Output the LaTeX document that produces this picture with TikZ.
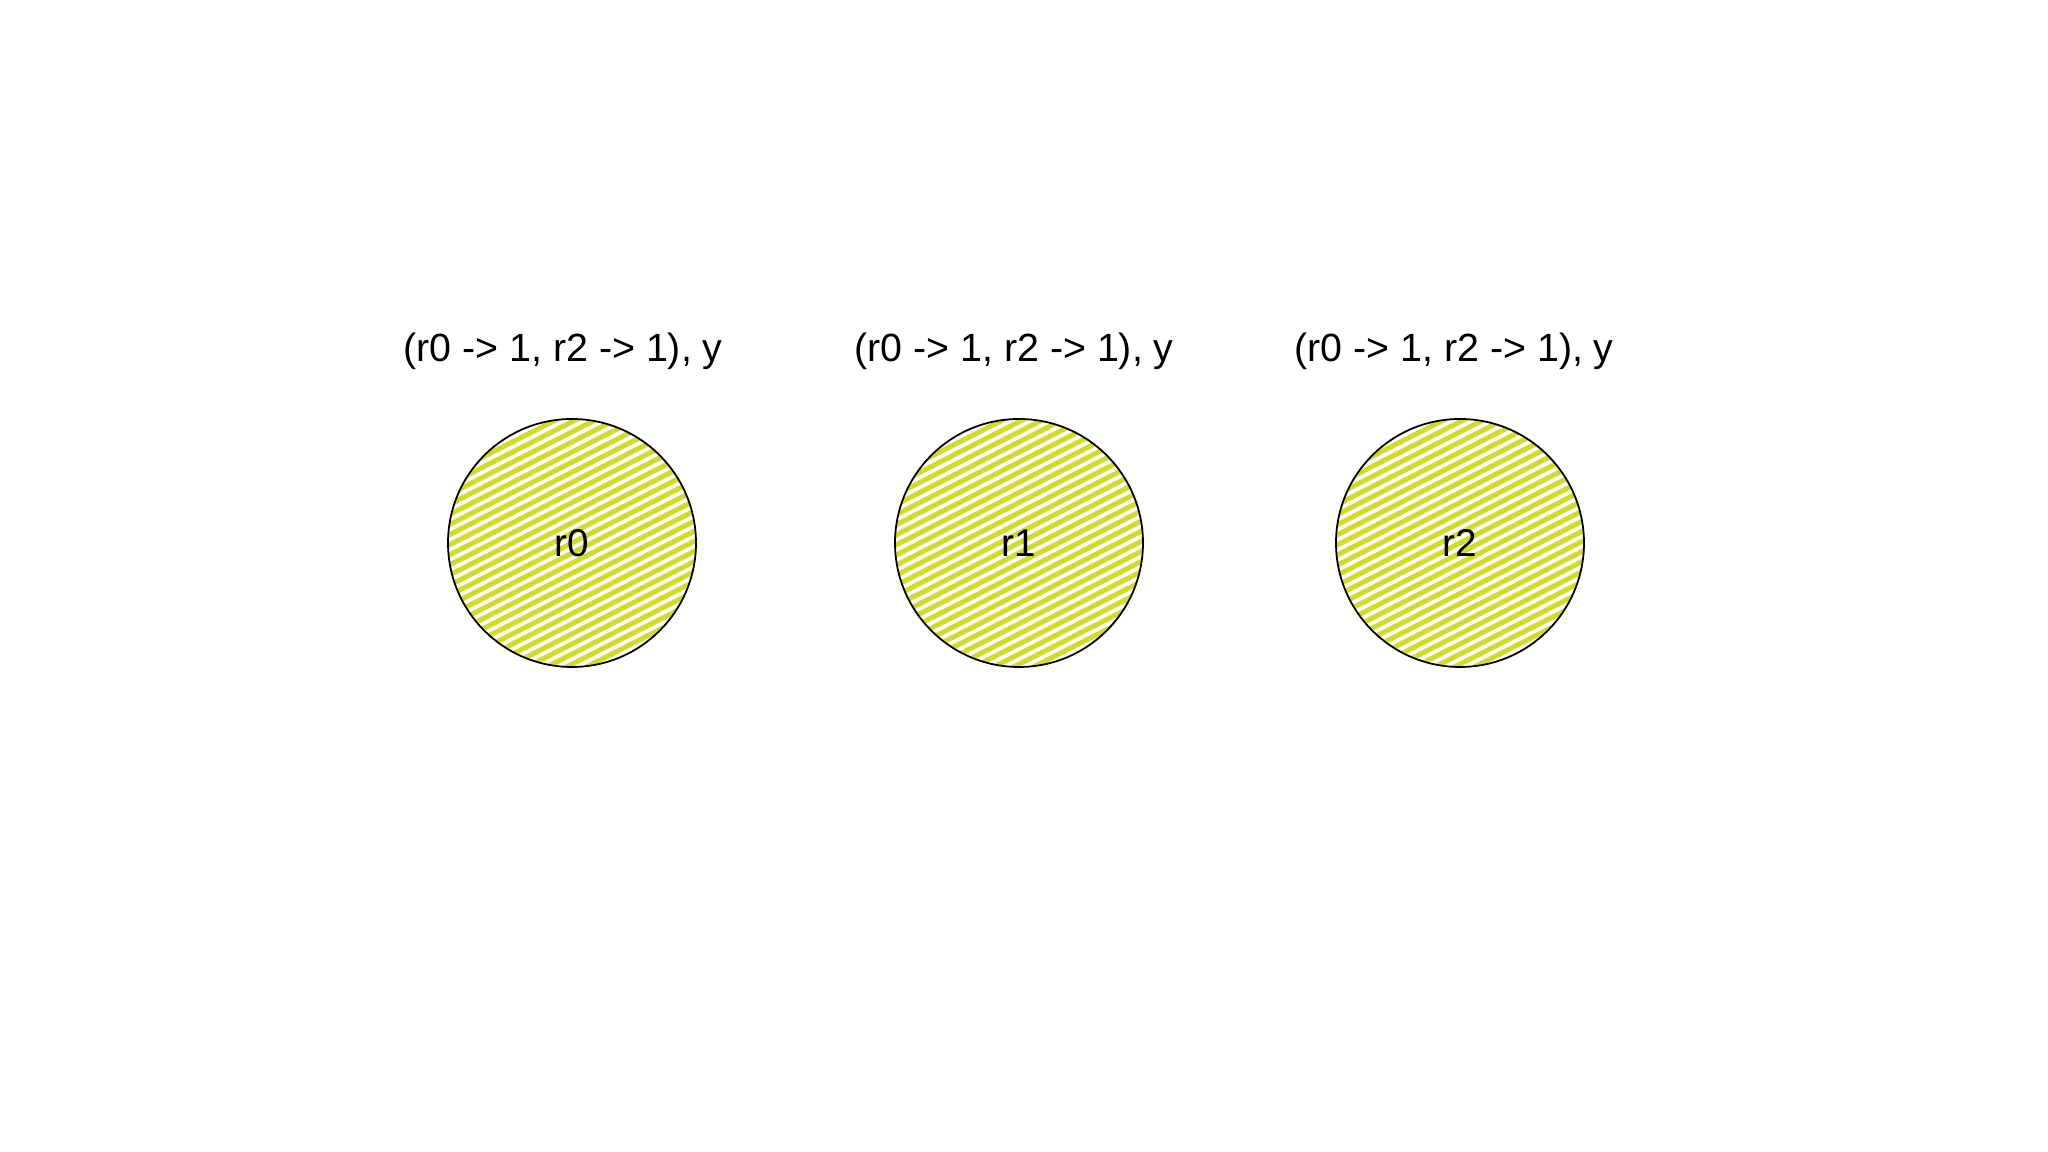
\documentclass[tikz,border=0pt]{standalone}
\usepackage{fontspec}
\setmainfont{Liberation Sans}
\definecolor{hatchyellow}{RGB}{212,218,40}
\begin{document}
\begin{tikzpicture}

\def\rad{1.24cm}
\def\gap{0.09}
\def\ang{27}
\def\up{1.92}

\tikzset{hatch/.style = {hatchyellow, line width=0.05cm, line cap=round}}
\tikzset{region/.style = {draw, circle, line width=0.5pt, minimum size=2*\rad, inner sep=0pt,
    font=\fontsize{11}{13}\selectfont,
    path picture={
      \foreach \k in {-16,...,16}
        \draw[hatch] (path picture bounding box.center) ++(\ang+90:\k*\gap) ++(\ang:-1.5) -- ++(\ang:3);}}}
\tikzset{title/.style = {font=\fontsize{11.2}{13}\selectfont, inner sep=0pt}}

\useasboundingbox (0,0) rectangle (20.48,11.52);

\node[region] (R0) at (5.72,6.09) {r0};
\node[region] (R1) at (10.19,6.09) {r1};
\node[region] (R2) at (14.60,6.09) {r2};

\path (R0) node[title] (T0) at +(-0.09,\up) {(r0 -> 1, r2 -> 1), y};
\path (R1) node[title] (T1) at +(-0.05,\up) {(r0 -> 1, r2 -> 1), y};
\path (R2) node[title] (T2) at +(-0.06,\up) {(r0 -> 1, r2 -> 1), y};

\end{tikzpicture}
\end{document}
